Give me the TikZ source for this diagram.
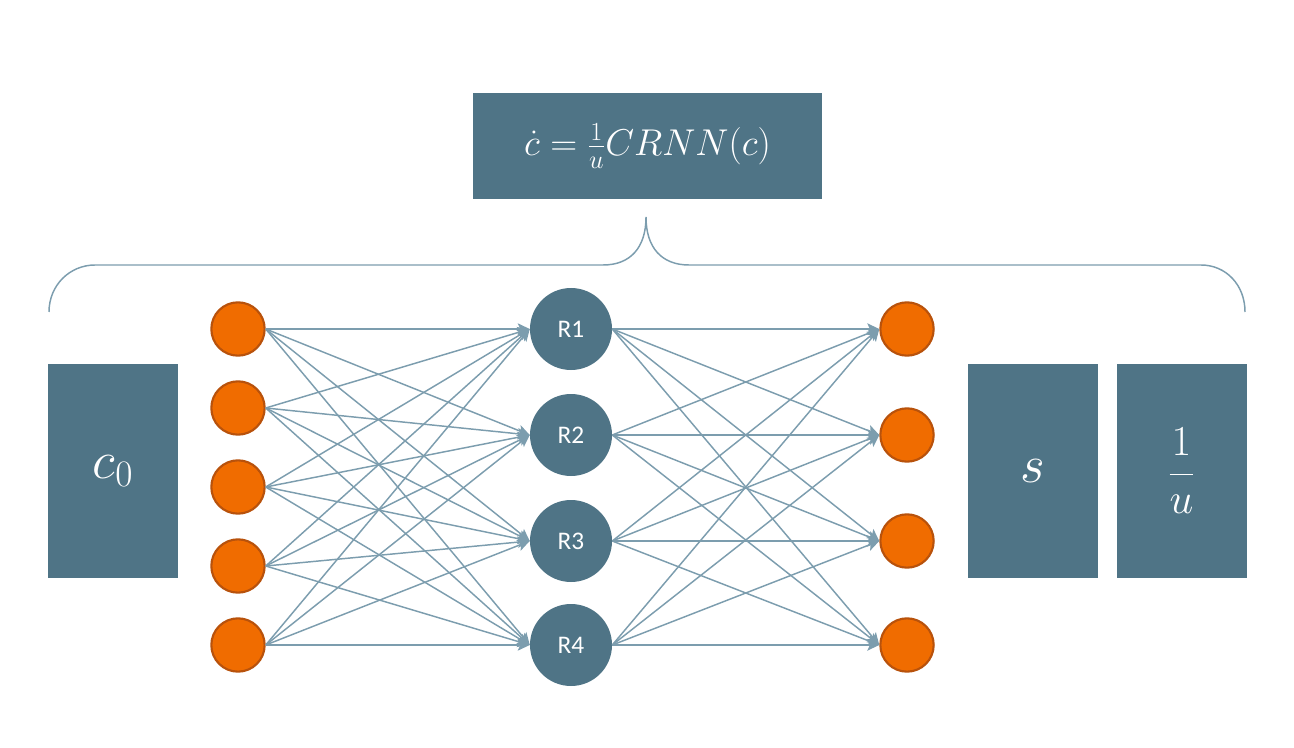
\RequirePackage{fix-cm}
\documentclass[tikz,border=0pt]{standalone}
\usepackage{fontspec}
\newfontfamily\carlito{Carlito}
\usetikzlibrary{arrows.meta}
\definecolor{boxcol}{HTML}{4F7486}
\definecolor{linecol}{HTML}{7C9DAE}
\definecolor{orfill}{HTML}{F06C00}
\definecolor{ordraw}{HTML}{B8520C}
\tikzset{
  mathbox/.style={fill=boxcol, draw=none, text=white, inner sep=0pt},
  innode/.style={circle, fill=orfill, draw=ordraw, line width=1.6pt, minimum size=40pt, inner sep=0pt},
  rnode/.style={circle, fill=boxcol, draw=none, minimum size=61.5pt, inner sep=0pt, text=white, font=\carlito\fontsize{19}{22}\selectfont},
  conn/.style={draw=linecol, line width=1.1pt, -{Stealth[length=9pt,width=8.5pt,inset=2pt]}},
  bracestyle/.style={draw=linecol, line width=1.1pt}
}
\begin{document}
\begin{tikzpicture}[x=0.75pt,y=-0.75pt]
\useasboundingbox (0,0) rectangle (1294,748);
% boxes
\node[mathbox, minimum width=261.75pt, minimum height=79.5pt] (top) at (647.5,146)
  {\fontsize{28}{32}\selectfont$\dot{c}=\frac{1}{u}CRNN(c)$};
\node[mathbox, minimum width=97.5pt, minimum height=160.5pt] (c0) at (113,471)
  {\fontsize{40}{44}\selectfont$c_0$};
\node[mathbox, minimum width=97.5pt, minimum height=160.5pt] (s) at (1033,471)
  {\fontsize{40}{44}\selectfont$s$};
\node[mathbox, minimum width=97.5pt, minimum height=160.5pt] (u) at (1181.5,471)
  {\fontsize{32}{36}\selectfont$\displaystyle\frac{1}{u}$};
% brace
\coordinate (bl) at (49,312);
\coordinate (bt) at (646,217);
\coordinate (br) at (1245,312);
\draw[bracestyle] (bl) .. controls (49,285) and (70,265) .. (95,265)
  -- (603,265) .. controls (630,265) and (646,248) .. (bt)
  .. controls (646,248) and (662,265) .. (689,265)
  -- (1201,265) .. controls (1226,265) and (1245,285) .. (br);
% left input nodes
\foreach \i/\y in {1/329,2/408,3/487,4/566,5/645}
  \node[innode] (L\i) at (238,\y) {};
% R nodes
\node[rnode] (R1) at (571,329) {R1};
\node[rnode] (R2) at (571,435) {R2};
\node[rnode] (R3) at (571,541) {R3};
\node[rnode] (R4) at (571,645) {R4};
% right output nodes
\foreach \i/\y in {1/329,2/435,3/541,4/645}
  \node[innode] (O\i) at (907,\y) {};
% connectors
\foreach \i in {1,...,5}
  \foreach \j in {1,...,4}
    \draw[conn] (L\i.east) -- (R\j.west);
\foreach \i in {1,...,4}
  \foreach \j in {1,...,4}
    \draw[conn] (R\i.east) -- (O\j.west);
\end{tikzpicture}
\end{document}
